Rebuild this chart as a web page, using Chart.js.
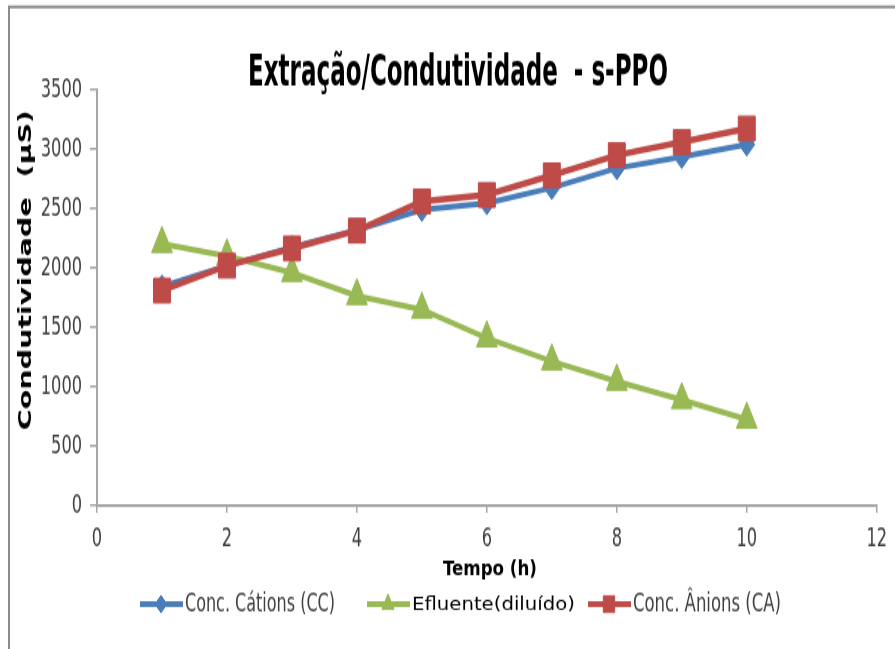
<!DOCTYPE html>
<html>
<head>
<meta charset="utf-8">
<script src="https://cdn.jsdelivr.net/npm/chart.js@4.4.1/dist/chart.umd.min.js"></script>
<style>
  html, body { margin: 0; padding: 0; background: #fff; }
</style>
</head>
<body>
<!-- the original picture is stretched vertically, so the canvas is drawn short and scaled up -->
<canvas id="chart" width="895" height="448" style="display:block;width:895px;height:649px"></canvas>
<script>
const hours = [1, 2, 3, 4, 5, 6, 7, 8, 9, 10];
const cationValues = [1845, 2020, 2175, 2320, 2490, 2545, 2675, 2840, 2935, 3040];
const effluentValues = [2205, 2100, 1960, 1765, 1650, 1410, 1215, 1045, 890, 725];
const anionValues = [1810, 2020, 2165, 2315, 2560, 2615, 2780, 2950, 3060, 3175];
const xTickValues = [0, 2, 4, 6, 8, 10, 12];
const yTickValues = [0, 500, 1000, 1500, 2000, 2500, 3000, 3500];
const seriesNames = ['Conc. Cátions (CC)', 'Efluente(diluído)', 'Conc. Ânions (CA)'];
const titleText = 'Extração/Condutividade  - s-PPO';
const xTitle = 'Tempo (h)';
const yTitle = 'Condutividade  (µS)';

const blue = '#4a7ebb';
const green = '#98b954';
const red = '#be4b48';
const axisGrey = '#a6a6a6';
const tickColor = '#404040';
const narrow = "'DejaVu Sans Condensed', 'Liberation Sans Narrow', sans-serif";

function toPoints(values) {
    return hours.map((h, i) => ({x: h, y: values[i]}));
}

// draws text squeezed to a given width (x is the left edge or the centre, depending on align)
function fillFitted(ctx, text, x, y, width, align) {
    const w = ctx.measureText(text).width;
    ctx.save();
    ctx.translate(x, y);
    ctx.scale(width / w, 1);
    ctx.textAlign = align;
    ctx.fillText(text, 0, 0);
    ctx.restore();
}

const decorPlugin = {
    id: 'decor',
    beforeDraw(chart) {
        const ctx = chart.ctx;
        ctx.save();
        ctx.fillStyle = '#fff';
        ctx.fillRect(0, 0, chart.width, chart.height);
        ctx.restore();
    },
    afterDraw(chart) {
        const ctx = chart.ctx;
        ctx.save();

        // frame, only top and left edges are visible
        ctx.strokeStyle = '#8c8c8c';
        ctx.lineWidth = 2;
        ctx.beginPath();
        ctx.moveTo(9, chart.height);
        ctx.lineTo(9, 4.8);
        ctx.lineTo(chart.width, 4.8);
        ctx.stroke();

        ctx.fillStyle = '#000';
        ctx.textBaseline = 'alphabetic';
        ctx.font = 'bold 31px ' + narrow;
        fillFitted(ctx, titleText, 458, 58.7, 420, 'center');

        ctx.font = 'bold 14px ' + narrow;
        fillFitted(ctx, xTitle, 490, 397, 94, 'center');

        ctx.save();
        ctx.translate(26, 186.4);
        ctx.rotate(-Math.PI / 2);
        ctx.font = "bold 18px 'DejaVu Sans'";
        ctx.textBaseline = 'middle';
        fillFitted(ctx, yTitle, 0, 0, 221, 'center');
        ctx.restore();

        // legend
        const legendY = 417;
        const items = [
            {color: blue, style: 'rectRot', radius: 6, x: 140, font: '17px ' + narrow, width: 150, textColor: tickColor},
            {color: green, style: 'triangle', radius: 7, x: 367, font: "13px 'DejaVu Sans'", width: 163, textColor: '#000'},
            {color: red, style: 'rect', radius: 8, x: 588, font: '17px ' + narrow, width: 148, textColor: tickColor}
        ];
        items.forEach((item, i) => {
            ctx.strokeStyle = item.color;
            ctx.fillStyle = item.color;
            ctx.lineWidth = 4;
            ctx.beginPath();
            ctx.moveTo(item.x, legendY);
            ctx.lineTo(item.x + 43, legendY);
            ctx.stroke();
            ctx.lineWidth = 1;
            Chart.helpers.drawPoint(ctx, {pointStyle: item.style, radius: item.radius, rotation: 0, borderWidth: 1}, item.x + 21, legendY);

            ctx.fillStyle = item.textColor;
            ctx.font = item.font;
            ctx.textBaseline = 'middle';
            fillFitted(ctx, seriesNames[i], item.x + 45, legendY + 0.5, item.width, 'left');
        });
        ctx.restore();
    }
};

new Chart(document.getElementById('chart'), {
    type: 'line',
    data: {
        datasets: [
            {
                label: seriesNames[0],
                data: toPoints(cationValues),
                borderColor: blue,
                backgroundColor: blue,
                borderWidth: 4,
                pointStyle: 'rectRot',
                pointRadius: 8,
                pointBorderWidth: 1,
                order: 2
            },
            {
                label: seriesNames[1],
                data: toPoints(effluentValues),
                borderColor: green,
                backgroundColor: green,
                borderWidth: 4,
                pointStyle: 'triangle',
                pointRadius: 12,
                pointBorderWidth: 1,
                order: 1
            },
            {
                label: seriesNames[2],
                data: toPoints(anionValues),
                borderColor: red,
                backgroundColor: red,
                borderWidth: 4.5,
                pointStyle: 'rect',
                pointRadius: 12,
                pointBorderWidth: 1,
                order: 0
            }
        ]
    },
    options: {
        responsive: false,
        animation: false,
        devicePixelRatio: 1,
        layout: {padding: {left: 10, right: 17, top: 62, bottom: 59}},
        plugins: {
            legend: {display: false},
            title: {display: false},
            tooltip: {enabled: false}
        },
        scales: {
            x: {
                type: 'linear',
                min: xTickValues[0],
                max: xTickValues[xTickValues.length - 1],
                afterBuildTicks: scale => { scale.ticks = xTickValues.map(v => ({value: v})); },
                afterFit: scale => { scale.height = 40; },
                grid: {drawOnChartArea: false, color: axisGrey, tickLength: 5, lineWidth: 1.5},
                border: {color: axisGrey, width: 2},
                ticks: {font: {family: narrow, size: 18}, color: tickColor, padding: 8, maxRotation: 0,
                        callback: value => String(value)}
            },
            y: {
                min: yTickValues[0],
                max: yTickValues[yTickValues.length - 1],
                afterBuildTicks: scale => { scale.ticks = yTickValues.map(v => ({value: v})); },
                afterFit: scale => { scale.width = 87; },
                grid: {drawOnChartArea: false, color: axisGrey, tickLength: 7, lineWidth: 1.5},
                border: {color: axisGrey, width: 2},
                ticks: {font: {family: narrow, size: 18}, color: tickColor, padding: 8,
                        callback: value => String(value)}
            }
        }
    },
    plugins: [decorPlugin]
});
</script>
</body>
</html>
